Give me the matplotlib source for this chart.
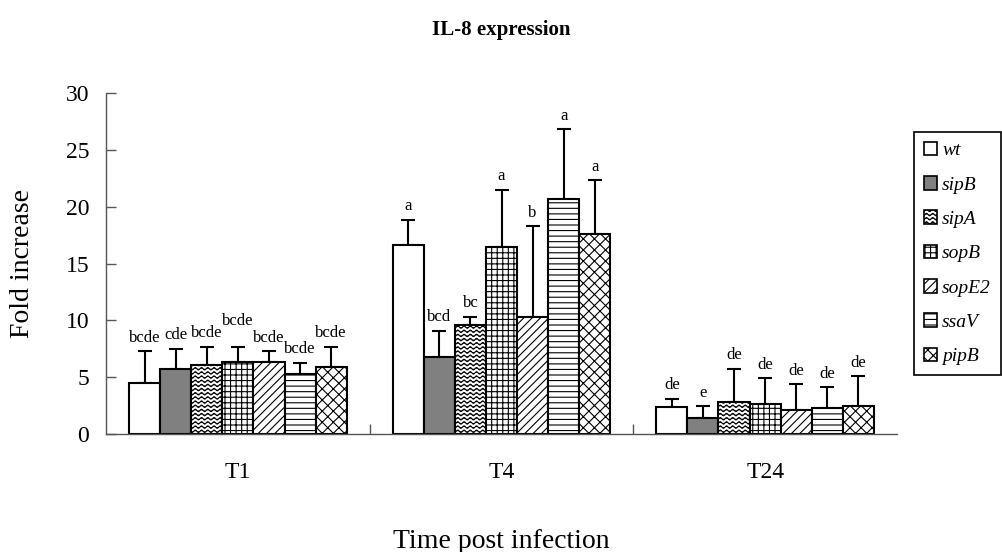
import warnings
import numpy as np
import matplotlib
matplotlib.use('Agg')
import matplotlib.pyplot as plt
import matplotlib.hatch as mhatch
from matplotlib.path import Path
from matplotlib.patches import Patch

warnings.filterwarnings('ignore')

groups = ['T1', 'T4', 'T24']
strains = ['wt', 'sipB', 'sipA', 'sopB', 'sopE2', 'ssaV', 'pipB']

wt = [4.5, 16.6, 2.4]
sipB = [5.75, 6.8, 1.4]
sipA = [6.1, 9.6, 2.85]
sopB = [6.35, 16.45, 2.65]
sopE2 = [6.3, 10.3, 2.1]
ssaV = [5.25, 20.65, 2.3]
pipB = [5.9, 17.6, 2.45]

wt_sd = [2.8, 2.25, 0.7]
sipB_sd = [1.73, 2.27, 1.04]
sipA_sd = [1.59, 0.7, 2.9]
sopB_sd = [1.34, 5.03, 2.25]
sopE2_sd = [1.0, 8.0, 2.27]
ssaV_sd = [1.03, 6.2, 1.81]
pipB_sd = [1.79, 4.73, 2.62]

wt_sig = ['bcde', 'a', 'de']
sipB_sig = ['cde', 'bcd', 'e']
sipA_sig = ['bcde', 'bc', 'de']
sopB_sig = ['bcde', 'a', 'de']
sopE2_sig = ['bcde', 'b', 'de']
ssaV_sig = ['bcde', 'a', 'de']
pipB_sig = ['bcde', 'a', 'de']

means = [wt, sipB, sipA, sopB, sopE2, ssaV, pipB]
sds = [wt_sd, sipB_sd, sipA_sd, sopB_sd, sopE2_sd, ssaV_sd, pipB_sd]
sigs = [wt_sig, sipB_sig, sipA_sig, sopB_sig, sopE2_sig, ssaV_sig, pipB_sig]


# wavy hatch for sipA, matplotlib has none built in
class WavyHatch(mhatch.HatchPatternBase):
    def __init__(self, hatch, density):
        self.num_lines = int(hatch.count('~') * density)
        self.num_pts = 129
        self.num_vertices = self.num_lines * self.num_pts

    def set_vertices_and_codes(self, vertices, codes):
        xs = np.linspace(0.0, 1.0, self.num_pts)
        for i in range(self.num_lines):
            s = (i + 0.5) / self.num_lines
            seg = slice(i * self.num_pts, (i + 1) * self.num_pts)
            vertices[seg, 0] = xs
            vertices[seg, 1] = s + 0.012 * np.sin(2 * np.pi * 16 * xs)
            codes[seg] = Path.LINETO
            codes[i * self.num_pts] = Path.MOVETO


mhatch._hatch_types.append(WavyHatch)

colors = ['white', '#808080', 'white', 'white', 'white', 'white', 'white']
hatches = [None, None, '~~~~', '+++', '////', '---', 'xxx']

plt.rcParams['font.family'] = ['Liberation Serif', 'DejaVu Serif']
plt.rcParams['hatch.linewidth'] = 0.8

fig = plt.figure(figsize=(10.02, 5.52), dpi=100)
ax = fig.add_axes([0.1058, 0.2138, 0.7894, 0.6172])

x = np.arange(len(groups))
w = 0.118
extra = {(0, 3): 9}  # T1 sopB label sits higher in the original

for i, s in enumerate(strains):
    xs = x + (i - 3) * w
    ax.bar(xs, means[i], w, color=colors[i], edgecolor='black', linewidth=1.5,
           hatch=hatches[i], zorder=2, label=s)
    ax.errorbar(xs, means[i], yerr=[np.zeros(3), sds[i]], fmt='none',
                ecolor='black', elinewidth=1.5, capsize=4.7, capthick=1.5,
                zorder=1)
    for j in range(len(groups)):
        top = means[i][j] + sds[i][j]
        ax.annotate(sigs[i][j], (xs[j], top), xytext=(0, 4 + extra.get((j, i), 0)),
                    textcoords='offset points', ha='center', va='bottom',
                    fontsize=12)

ax.set_xlim(-0.5, 2.5)
ax.set_ylim(0, 30)
ax.set_yticks(range(0, 31, 5))
ax.set_xticks(x)
ax.set_xticklabels(groups)
ax.set_xticks([0.5, 1.5], minor=True)
ax.tick_params(axis='y', direction='in', length=7, width=1, color='#555555',
               labelsize=17, pad=12)
ax.tick_params(axis='x', which='major', length=0, labelsize=17, pad=20)
ax.tick_params(axis='x', which='minor', direction='in', length=7, width=1,
               color='#555555')
for side in ['top', 'right']:
    ax.spines[side].set_visible(False)
for side in ['left', 'bottom']:
    ax.spines[side].set_color('#555555')
    ax.spines[side].set_linewidth(1)

fig.text(0.5, 1 - 30 / 552, 'IL-8 expression', ha='center', va='center',
         fontsize=15, fontweight='bold')
fig.text(501 / 1002, 1 - 541 / 552, 'Time post infection', ha='center',
         va='center', fontsize=20)
fig.text(23 / 1002, 1 - 263 / 552, 'Fold increase', ha='center', va='center',
         rotation=90, fontsize=20)

handles = [Patch(facecolor=colors[i], edgecolor='black', linewidth=1.2,
                 hatch=hatches[i], label=s) for i, s in enumerate(strains)]
leg = fig.legend(handles=handles, loc='upper left',
                 bbox_to_anchor=(914 / 1002, 1 - 132 / 552), borderaxespad=0,
                 prop={'style': 'italic', 'size': 14}, fancybox=False,
                 edgecolor='black', framealpha=1, handlelength=0.7,
                 handleheight=0.7, handletextpad=0.25, labelspacing=0.86,
                 borderpad=0.5)
leg.get_frame().set_linewidth(1.2)

plt.savefig('out.png', dpi=100)
